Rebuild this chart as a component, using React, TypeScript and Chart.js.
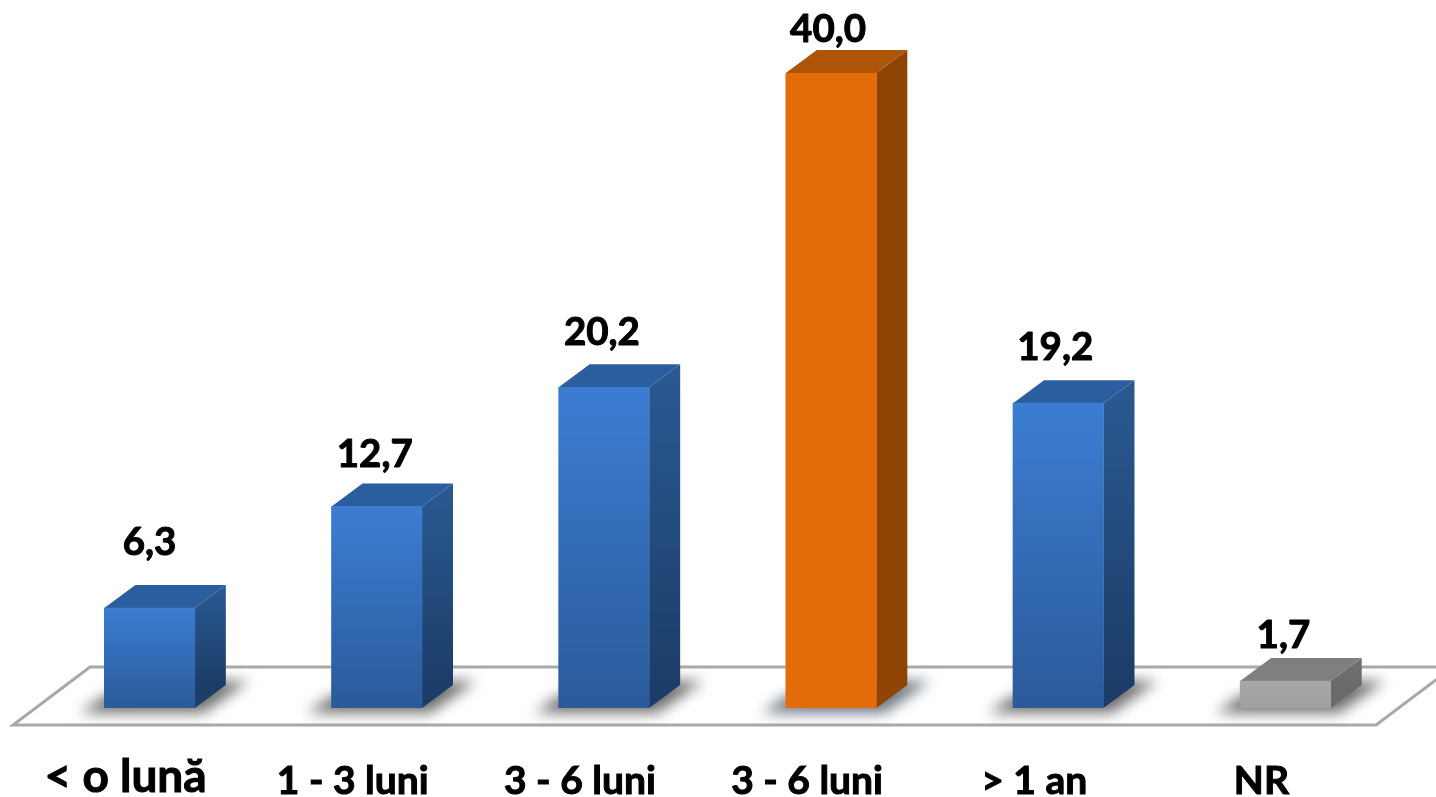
import React, { useEffect, useRef } from "react";
import { Chart, registerables } from "chart.js";

Chart.register(...registerables);

const categories = ["< o lună", "1 - 3 luni", "3 - 6 luni", "3 - 6 luni", "> 1 an", "NR"];
const values = [6.3, 12.7, 20.2, 40.0, 19.2, 1.7];

const FONT = "Lato, Carlito, 'Open Sans', sans-serif";
const labelLift = [53, 39, 42, 31, 43, 33];
const labelShift = [0, -2, -2, -3, -3, -2];

type Tone = { frontTop: string; frontBottom: string; top: string; sideTop: string; sideBottom: string; shadow: string };
const blue: Tone = { frontTop: "#3c7dd2", frontBottom: "#2a5a9a", top: "#2b5e9e", sideTop: "#2a5a92", sideBottom: "#1c3d68", shadow: "rgba(85,85,85,0.85)" };
const orange: Tone = { frontTop: "#e36c0a", frontBottom: "#e36c0a", top: "#ae5407", sideTop: "#8f4406", sideBottom: "#8f4406", shadow: "rgba(85,95,110,0.85)" };
const grey: Tone = { frontTop: "#a8a8a8", frontBottom: "#a0a0a0", top: "#7f7f7f", sideTop: "#707070", sideBottom: "#6a6a6a", shadow: "rgba(85,85,85,0.85)" };
const tones = [blue, blue, blue, orange, blue, grey];

const DX = 31;
const DY = 23;

const bar3d = {
  id: "bar3d",
  beforeDatasetsDraw(chart: any) {
    const { ctx, chartArea } = chart;
    const b = chartArea.bottom;
    const l = chartArea.left - 23;
    const r = chartArea.right - 23;
    ctx.save();
    ctx.strokeStyle = "#a9a9a9";
    ctx.lineWidth = 3;
    ctx.lineJoin = "miter";
    ctx.beginPath();
    ctx.moveTo(l, b + 17);
    ctx.lineTo(r, b + 17);
    ctx.lineTo(r + 77, b - 41);
    ctx.lineTo(l + 77, b - 41);
    ctx.closePath();
    ctx.stroke();
    ctx.restore();

    const bars = chart.getDatasetMeta(0).data;
    bars.forEach((bar: any, i: number) => {
      const t = tones[i];
      const x0 = bar.x - bar.width / 2;
      const x1 = bar.x + bar.width / 2;
      const top = bar.y;
      const bottom = bar.base;

      ctx.save();
      ctx.filter = "blur(7px)";
      ctx.fillStyle = t.shadow;
      ctx.beginPath();
      ctx.moveTo(x0 - 24, bottom + 5);
      ctx.lineTo(x1 + 8, bottom + 5);
      ctx.lineTo(x1 + 54, bottom - 27);
      ctx.lineTo(x1 + 10, bottom - 27);
      ctx.lineTo(x0, bottom - 12);
      ctx.closePath();
      ctx.fill();
      ctx.restore();

      const side = ctx.createLinearGradient(0, top - DY, 0, bottom - DY);
      side.addColorStop(0, t.sideTop);
      side.addColorStop(1, t.sideBottom);
      ctx.fillStyle = side;
      ctx.beginPath();
      ctx.moveTo(x1, top);
      ctx.lineTo(x1 + DX, top - DY);
      ctx.lineTo(x1 + DX, bottom - DY);
      ctx.lineTo(x1, bottom);
      ctx.closePath();
      ctx.fill();

      ctx.fillStyle = t.top;
      ctx.beginPath();
      ctx.moveTo(x0, top);
      ctx.lineTo(x0 + DX, top - DY);
      ctx.lineTo(x1 + DX, top - DY);
      ctx.lineTo(x1, top);
      ctx.closePath();
      ctx.fill();
    });
  },
  afterDatasetsDraw(chart: any) {
    const { ctx } = chart;
    const bars = chart.getDatasetMeta(0).data;
    ctx.save();
    ctx.fillStyle = "#000";
    ctx.strokeStyle = "#000";
    ctx.lineWidth = 1;
    ctx.lineJoin = "round";
    ctx.font = `bold 38.5px ${FONT}`;
    ctx.textAlign = "center";
    ctx.textBaseline = "alphabetic";
    bars.forEach((bar: any, i: number) => {
      const text = values[i].toFixed(1).replace(".", ",");
      const x = bar.x + labelShift[i];
      const y = bar.y - labelLift[i];
      ctx.strokeText(text, x, y);
      ctx.fillText(text, x, y);
    });
    ctx.restore();
  },
};

export default function App() {
  const ref = useRef<HTMLCanvasElement>(null);
  useEffect(() => {
    const canvas = ref.current!;
    const chart = new Chart(canvas, {
      type: "bar",
      data: {
        labels: categories,
        datasets: [
          {
            data: values,
            barThickness: 90.5,
            borderWidth: 0,
            backgroundColor: (c: any) => {
              const t = tones[c.dataIndex];
              if (t === undefined) return "#000";
              const sc = c.chart.scales.y;
              if (!sc) return t.frontTop;
              const y0 = sc.getPixelForValue(values[c.dataIndex]);
              const y1 = sc.getPixelForValue(0);
              if (!Number.isFinite(y0) || !Number.isFinite(y1)) return t.frontTop;
              const g = c.chart.ctx.createLinearGradient(0, y0, 0, y1);
              g.addColorStop(0, t.frontTop);
              g.addColorStop(1, t.frontBottom);
              return g;
            },
          },
        ],
      },
      options: {
        responsive: false,
        animation: false,
        devicePixelRatio: 1,
        layout: { padding: { left: 36, right: 37, top: 73, bottom: 0 } },
        plugins: { legend: { display: false }, tooltip: { enabled: false }, title: { display: false } },
        scales: {
          y: { display: false, min: 0, max: 40 },
          x: {
            afterFit: (s: any) => {
              s.height = 89;
            },
            grid: { display: false },
            border: { display: false },
            ticks: {
              autoSkip: false,
              maxRotation: 0,
              minRotation: 0,
              labelOffset: -24,
              padding: 42,
              color: "#000",
              textStrokeColor: "#000",
              textStrokeWidth: 1,
              font: (c: any) =>
                c.index === 0
                  ? { family: FONT, weight: "bold", size: 46, lineHeight: 0.85 }
                  : { family: FONT, weight: "bold", size: 39 },
            },
          },
        },
      },
      plugins: [bar3d],
    } as any);
    return () => chart.destroy();
  }, []);
  return (
    <div style={{ position: "absolute", left: 0, top: 0, width: 1436, height: 797, background: "#fff", overflow: "hidden" }}>
      <canvas ref={ref} width={1436} height={797} style={{ display: "block", width: 1436, height: 797 }} />
    </div>
  );
}
